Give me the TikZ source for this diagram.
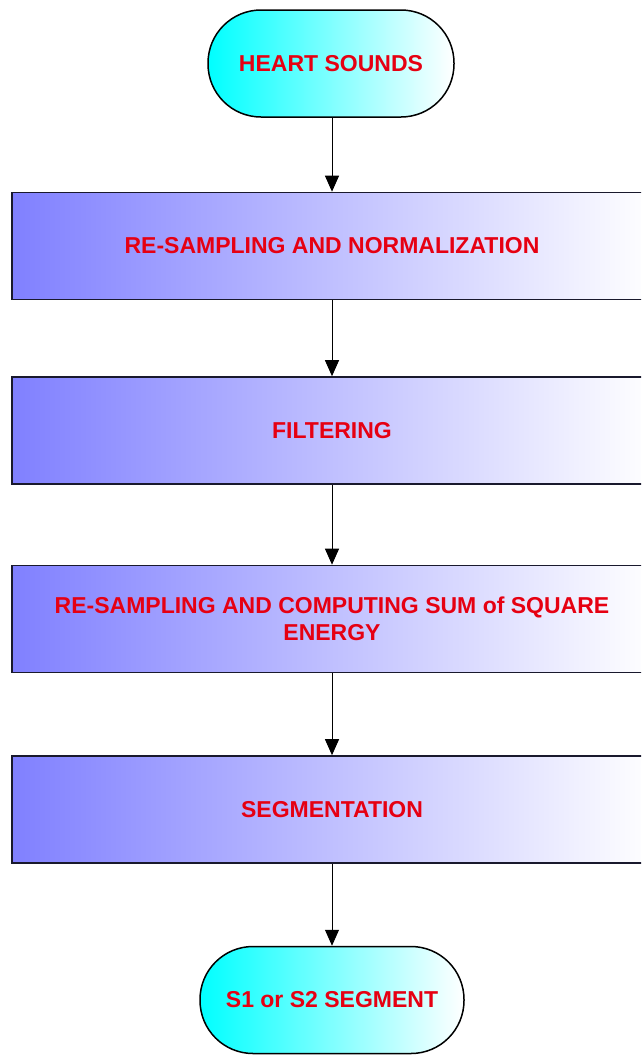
\documentclass[tikz,border=0pt]{standalone}
\usepackage{fontspec}
\setmainfont{Liberation Sans}
\usetikzlibrary{arrows.meta}
\definecolor{txtred}{RGB}{230,0,18}
\definecolor{boxblue}{RGB}{128,128,255}
\definecolor{edge}{RGB}{25,25,45}
\begin{document}
\begin{tikzpicture}[x=1pt,y=-1pt,
  lbl/.style={font=\fontsize{23}{27}\selectfont\bfseries, text=txtred, align=center},
  proc/.style={lbl, rectangle, draw=edge, line width=1.6pt, left color=boxblue, right color=white,
    minimum width=640pt, minimum height=107pt, inner sep=0pt},
  term/.style={lbl, rectangle, rounded corners=53pt, draw=black, line width=1.5pt, left color=cyan, right color=white,
    minimum height=107pt, inner sep=0pt},
  conn/.style={-{Triangle[length=16pt,width=14pt]}, line width=1pt, draw=black}]
\useasboundingbox (0,0) rectangle (641,1055);
\fill[white] (0,0) rectangle (641,1055);
\clip (0,0) rectangle (641,1055);
\node[term, minimum width=246pt] (t1) at (331,63.5) {HEART SOUNDS};
\node[proc] (b1) at (332,246) {RE-SAMPLING AND NORMALIZATION};
\node[proc] (b2) at (332,430.5) {FILTERING};
\node[proc] (b3) at (332,619) {RE-SAMPLING AND COMPUTING SUM of SQUARE\\ENERGY};
\node[proc] (b4) at (332,809.5) {SEGMENTATION};
\node[term, minimum width=264pt] (t2) at (332,1000) {S1 or S2 SEGMENT};
\draw[conn] (t1.south -| b1.north) -- (b1.north);
\draw[conn] (b1) -- (b2);
\draw[conn] (b2) -- (b3);
\draw[conn] (b3) -- (b4);
\draw[conn] (b4) -- (t2);
\end{tikzpicture}
\end{document}
